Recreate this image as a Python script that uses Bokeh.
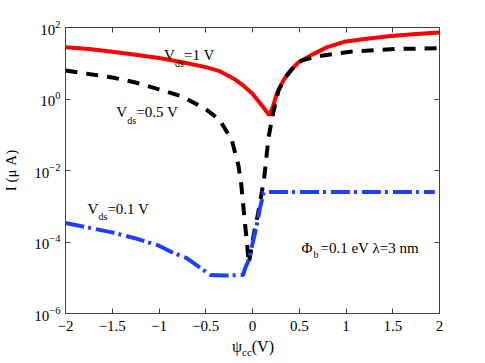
from bokeh.plotting import figure
from bokeh.models import (LinearAxis, LogAxis, FixedTicker, Label, Range1d, Div)
from bokeh.layouts import column
from bokeh.embed import file_html
from bokeh.resources import INLINE

# ---- data ----
x_v1 = [-2.0, -1.75, -1.5, -1.25, -1.0, -0.75, -0.5, -0.35, -0.2, -0.1, 0.0, 0.1, 0.18,
        0.22, 0.26, 0.33, 0.4, 0.49, 0.66, 0.8, 0.98, 1.2, 1.48, 1.75, 2.0]
i_v1 = [28.2, 25.1, 20.9, 17.4, 14.1, 10.7, 7.8, 6.0, 3.7, 2.4, 1.41, 0.66, 0.35,
        0.63, 1.41, 3.3, 6.0, 10.5, 18.6, 28.2, 39.8, 47.9, 57.5, 66.1, 72.4]

x_v05 = [-2.0, -1.75, -1.5, -1.25, -1.0, -0.75, -0.5, -0.35, -0.22, -0.15, -0.12, -0.08, -0.06,
         -0.04, 0.02, 0.06, 0.10, 0.13, 0.17, 0.22, 0.28, 0.35, 0.49, 0.68, 1.07, 1.55, 2.0]
i_v05 = [6.3, 5.0, 4.0, 2.9, 1.86, 1.17, 0.52, 0.26, 0.069, 0.0138, 0.004, 3.2e-4, 1.0e-4,
         2.5e-5, 2.0e-4, 6.3e-4, 2.5e-3, 7.9e-3, 0.079, 0.40, 1.78, 4.0, 11.2, 15.5, 21.4, 25.1, 26.3]

x_v01 = [-2.0, -1.5, -1.25, -1.0, -0.85, -0.7, -0.5, -0.45, -0.3, -0.1, -0.08, -0.04, 0.0,
         0.04, 0.08, 0.12, 0.16, 0.5, 1.0, 1.5, 1.95]
i_v01 = [3.4e-4, 1.86e-4, 1.26e-4, 7.9e-5, 5.0e-5, 3.5e-5, 1.48e-5, 1.2e-5, 1.15e-5, 1.2e-5,
         1.8e-5, 3.2e-5, 8.9e-5, 2.5e-4, 8.9e-4, 2.45e-3, 2.5e-3, 2.5e-3, 2.5e-3, 2.5e-3, 2.5e-3]

x_ticks = [-2, -1.5, -1, -0.5, 0, 0.5, 1, 1.5, 2]
x_tick_labels = ["\u22122", "\u22121.5", "\u22121", "\u22120.5", "0", "0.5", "1", "1.5", "2"]
y_ticks = [1e-6, 1e-4, 1e-2, 1, 1e2]
y_tick_keys = ["0.000001", "0.0001", "0.01", "1", "100"]
y_tick_labels = ["10\u207b\u2076", "10\u207b\u2074", "10\u207b\u00b2", "10\u2070", "10\u00b2"]

FONT = "Liberation Serif"
AX = "#404040"

fig = figure(width=477, height=338, x_range=Range1d(-2, 2), y_range=Range1d(1e-6, 1e2),
             y_axis_type="log", output_backend="svg", toolbar_location=None,
             min_border_left=63, min_border_right=38, min_border_top=27, min_border_bottom=25)
fig.grid.visible = False
fig.outline_line_color = AX
fig.background_fill_color = "white"
fig.border_fill_color = "white"

fig.line(x_v1, i_v1, line_color="#ff0000", line_width=4)
fig.line(x_v05, i_v05, line_color="black", line_width=4, line_dash="12 9")
fig.line(x_v01, i_v01, line_color="#1f3fff", line_width=4, line_dash="19 4 3 5")

# bottom / left axes
xa = fig.xaxis[0]
xa.ticker = FixedTicker(ticks=x_ticks)
xa.major_label_overrides = {str(t): l for t, l in zip(x_ticks, x_tick_labels)}
ya = fig.yaxis[0]
ya.ticker = FixedTicker(ticks=y_ticks)
ya.major_label_overrides = dict(zip(y_tick_keys, y_tick_labels))
for ax in (xa, ya):
    ax.axis_line_color = AX
    ax.major_tick_line_color = AX
    ax.major_tick_in = 5
    ax.major_tick_out = 0
    ax.minor_tick_line_color = None
    ax.major_label_text_font = FONT
    ax.major_label_text_font_size = "15px"
    ax.major_label_text_color = "black"
xa.major_label_standoff = 7
ya.major_label_standoff = 5
ya.axis_label = "I (\u03bc A)"
ya.axis_label_text_font = FONT
ya.axis_label_text_font_size = "15px"
ya.axis_label_text_font_style = "normal"
ya.axis_label_text_color = "black"
ya.axis_label_standoff = 12

# mirrored top / right axes (ticks only)
top = LinearAxis(ticker=FixedTicker(ticks=x_ticks),
                 major_label_overrides={str(t): "" for t in x_ticks},
                 major_label_text_color=None,
                 axis_line_color=AX, major_tick_line_color=AX, major_tick_in=5, major_tick_out=0,
                 minor_tick_line_color=None, major_label_standoff=0)
right = LogAxis(ticker=FixedTicker(ticks=y_ticks),
                major_label_overrides={k: "" for k in y_tick_keys},
                major_label_text_color=None,
                axis_line_color=AX, major_tick_line_color=AX, major_tick_in=5, major_tick_out=0,
                minor_tick_line_color=None, major_label_standoff=0)
fig.add_layout(top, "above")
fig.add_layout(right, "right")

def lab(x, y, text, size="15px", xo=0, yo=0):
    fig.add_layout(Label(x=x, y=y, text=text,
                         text_font=FONT, text_font_size=size, text_color="black",
                         text_baseline="alphabetic", x_offset=xo, y_offset=yo))

# V_ds = 1 V
lab(-0.946, 10**1.217, "V")
lab(-0.946, 10**1.217, "ds", size="10px", xo=11, yo=-8)
lab(-0.946, 10**1.217, "=1 V", xo=20)
# V_ds = 0.5 V
lab(-1.457, 10**-0.369, "V")
lab(-1.457, 10**-0.369, "ds", size="10px", xo=11, yo=-8)
lab(-1.457, 10**-0.369, "=0.5 V", xo=20)
# V_ds = 0.1 V
lab(-1.766, 10**-3.063, "V")
lab(-1.766, 10**-3.063, "ds", size="10px", xo=11, yo=-8)
lab(-1.766, 10**-3.063, "=0.1 V", xo=20)
# Phi_b label
lab(0.524, 10**-4.154, "\u03a6")
lab(0.524, 10**-4.154, "b", size="10px", xo=12, yo=-7)
lab(0.524, 10**-4.154, "=0.1 eV \u03bb=3 nm", xo=19)

# x axis label psi_cc(V) as real HTML text below the plot
xlabel = Div(text=("<div style=\"position:relative;left:232px;top:0px;white-space:nowrap;"
                   "font-family:'Liberation Serif';font-size:16px;line-height:17px;color:black\">"
                   "\u03c8<sub style=\"font-size:11px;vertical-align:-4px\">cc</sub>(V)</div>"),
             width=477, height=17, margin=(0, 0, 0, 0))

p = column(fig, xlabel, spacing=0)

open("out.html", "w").write(file_html(p, INLINE))
